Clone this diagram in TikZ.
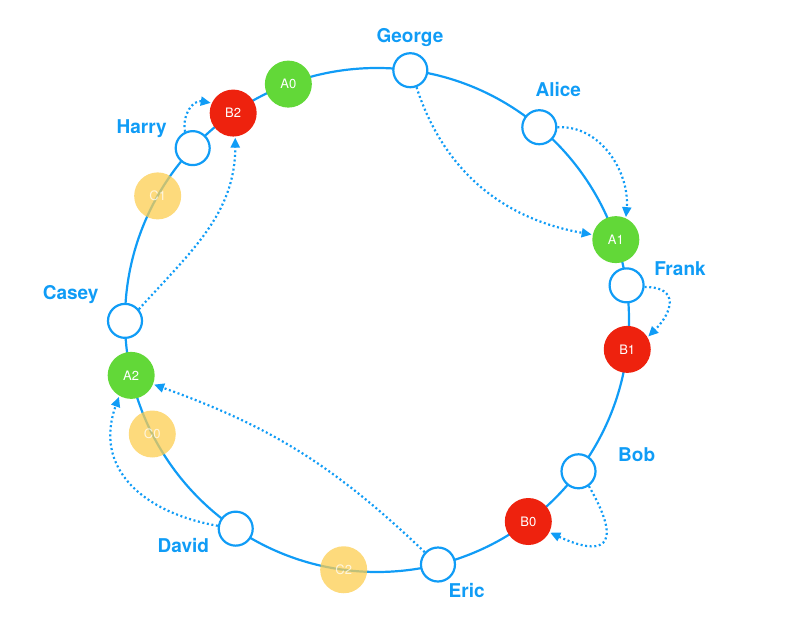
\documentclass[tikz,border=0pt]{standalone}
\usepackage{fontspec}
\setmainfont{TeX Gyre Heros}
\usetikzlibrary{arrows.meta}
\definecolor{ringblue}{RGB}{16,156,246}
\definecolor{vred}{RGB}{238,34,14}
\definecolor{vgreen}{RGB}{98,216,56}
\definecolor{vyellow}{RGB}{252,205,80}
\begin{document}
\begin{tikzpicture}[x=1pt,y=1pt,
 ring/.style={draw=ringblue,line width=2.2pt},
 peer/.style={circle,draw=ringblue,line width=2.2pt,fill=white,minimum size=34pt,inner sep=0pt},
 vnode/.style={circle,minimum size=47pt,inner sep=0pt,text=white,font=\fontsize{13}{15}\selectfont},
 vA/.style={vnode,fill=vgreen},
 vB/.style={vnode,fill=vred},
 vC/.style={vnode,fill=vyellow,opacity=0.75},
 lbl/.style={text=ringblue,font=\fontsize{19}{22}\selectfont\bfseries,inner sep=0pt},
 hop/.style={draw=ringblue,line width=2.2pt,dash pattern=on 2pt off 2.6pt,-{Triangle[length=10pt,width=9pt]},shorten >=1pt}
]
\useasboundingbox (0,0) rectangle (788,636);
\coordinate (ctr) at (377,316);
\draw[ring] (ctr) circle[radius=252];
\begin{scope}[shift={(377,316)}]
\node[peer] (george) at (82.4:252) {};
\node[peer] (alice) at (49.9:252) {};
\node[vA] (a1) at (18.6:252) {A1};
\node[peer] (frank) at (7.9:252) {};
\node[vB] (b1) at (-6.7:252) {B1};
\node[peer] (bob) at (-36.9:252) {};
\node[vB] (b0) at (-53.1:252) {B0};
\node[peer] (eric) at (-76.0:252) {};
\node[vC] (c2) at (-97.6:252) {C2};
\node[peer] (david) at (-124.1:252) {};
\node[vC] (c0) at (-153.1:252) {C0};
\node[vA] (a2) at (-167.3:252) {A2};
\node[peer] (casey) at (180.2:252) {};
\node[vC] (c1) at (150.5:252) {C1};
\node[peer] (harry) at (137.0:252) {};
\node[vB] (b2) at (124.8:252) {B2};
\node[vA] (a0) at (110.6:252) {A0};
\end{scope}
% labels
\node[lbl] (lgeorge) at (410,598.7) {George};
\node[lbl] (lalice) at (558.3,546.7) {Alice};
\node[lbl] (lfrank) at (680,367.7) {Frank};
\node[lbl] (lbob) at (636.7,181) {Bob};
\node[lbl] (leric) at (466.7,45.3) {Eric};
\node[lbl] (ldavid) at (183.3,90) {David};
\node[lbl] (lcasey) at (70.7,341) {Casey};
\node[lbl] (lharry) at (141.7,507.7) {Harry};
% hops
\draw[hop] (harry.115) to[out=100,in=170,looseness=1.2] (b2.155);
\draw[hop] (casey.40) to[out=48,in=-90] (b2.-85);
\draw[hop] (george.-70) to[out=-72,in=170] (a1.168);
\draw[hop] (alice.east) to[out=3,in=85] (a1.65);
\draw[hop] (frank.-5) to[out=0,in=45,looseness=1.8] (b1.31);
\draw[hop] (bob.-55) .. controls +(-60:75) and +(-25:55) .. (b0.-27);
\draw[hop] (eric.137) to[bend right=12] (a2.-22);
\draw[hop] (david.171) to[out=170,in=-110,looseness=1.2] (a2.-120);
\end{tikzpicture}
\end{document}
